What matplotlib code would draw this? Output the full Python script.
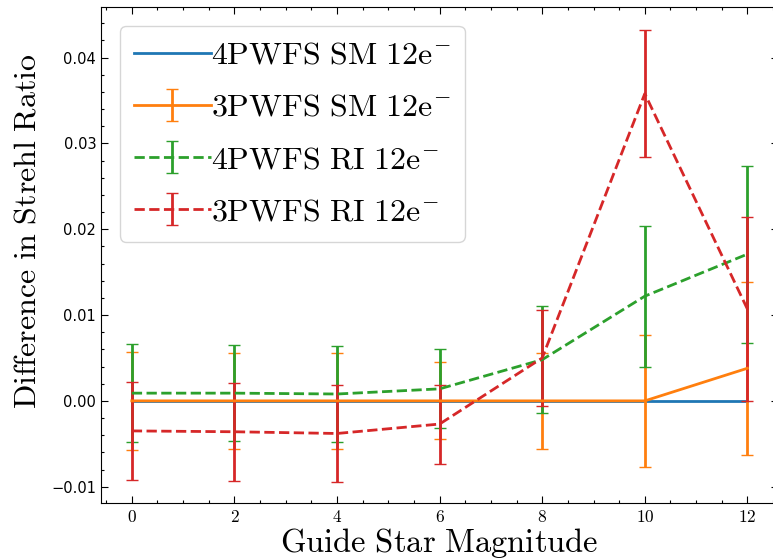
import matplotlib
matplotlib.use("Agg")
import matplotlib.pyplot as plt
from matplotlib.ticker import FuncFormatter, MultipleLocator

plt.rcParams["mathtext.fontset"] = "cm"

# guide star magnitude
mag = [0, 2, 4, 6, 8, 10, 12]

# difference in Strehl ratio, per configuration
sm4 = [0, 0, 0, 0, 0, 0, 0]
sm3 = [0, 0, 0, 0, 0, 0, 0.0038]
sm3_err = [0.0057, 0.0056, 0.0056, 0.0045, 0.0056, 0.0077, 0.0101]
ri4 = [0.0009, 0.0009, 0.0008, 0.0014, 0.0048, 0.0122, 0.0171]
ri4_err = [0.0057, 0.0056, 0.0056, 0.0046, 0.0062, 0.0082, 0.0103]
ri3 = [-0.0035, -0.0036, -0.0038, -0.0027, 0.0050, 0.0358, 0.0107]
ri3_err = [0.0057, 0.0057, 0.0056, 0.0046, 0.0056, 0.0074, 0.0107]

labels = [r"$\mathrm{4PWFS\ SM\ 12e^{-}}$", r"$\mathrm{3PWFS\ SM\ 12e^{-}}$",
          r"$\mathrm{4PWFS\ RI\ 12e^{-}}$", r"$\mathrm{3PWFS\ RI\ 12e^{-}}$"]

fig = plt.figure(figsize=(7.73, 5.59), dpi=100)
ax = fig.add_axes([0.1307, 0.1002, 0.876, 0.8873])

ax.plot(mag, sm4, color="tab:blue", lw=2, label=labels[0])
ax.errorbar(mag, sm3, yerr=sm3_err, color="tab:orange", lw=2, elinewidth=2,
            capsize=4, capthick=1, label=labels[1])
ax.errorbar(mag, ri4, yerr=ri4_err, color="tab:green", lw=2, ls="--", elinewidth=2,
            capsize=4, capthick=1, label=labels[2])
ax.errorbar(mag, ri3, yerr=ri3_err, color="tab:red", lw=2, ls="--", elinewidth=2,
            capsize=4, capthick=1, label=labels[3])

ax.set_xlim(-0.6, 12.6)
ax.set_ylim(-0.0119, 0.0459)
ax.xaxis.set_major_locator(MultipleLocator(2))
ax.xaxis.set_minor_locator(MultipleLocator(0.5))
ax.yaxis.set_major_locator(MultipleLocator(0.01))
ax.yaxis.set_minor_locator(MultipleLocator(0.002))
ax.xaxis.set_major_formatter(FuncFormatter(lambda v, _: f"${v:g}$"))
ax.tick_params(which="both", direction="in", top=True, right=True)
ax.tick_params(which="major", length=5, width=0.8)
ax.tick_params(which="minor", length=2.5, width=0.8)
ax.tick_params(axis="x", labelsize=12.5)
ax.tick_params(axis="y", labelsize=10.5)

ax.set_xlabel(r"$\mathrm{Guide\ Star\ Magnitude}$", fontsize=23.5)
ax.xaxis.set_label_coords(0.5, -0.046, transform=ax.transAxes)
ax.xaxis.label.set_va("top")
ax.set_ylabel(r"$\mathrm{Difference\ in\ Strehl\ Ratio}$", fontsize=23)
ax.yaxis.set_label_coords(-0.109, 0.548)
ax.yaxis.label.set_va("center")

ax.legend(loc="upper left", fontsize=23, handlelength=2.4, handletextpad=0.0,
          borderaxespad=0.58, labelspacing=0.66, borderpad=0.45)

fig.savefig("out.png", dpi=100)
